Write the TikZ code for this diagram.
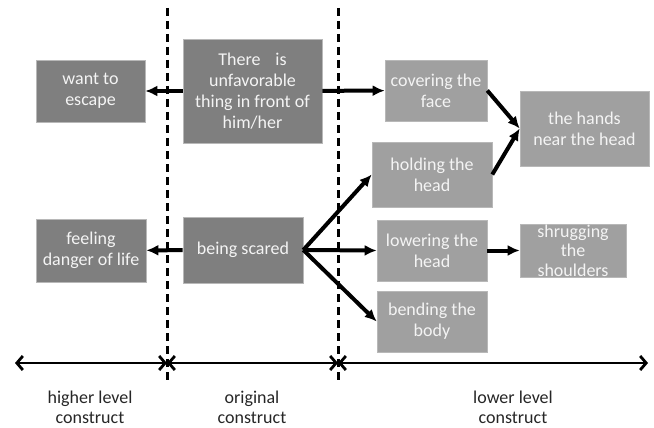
\documentclass[tikz,border=0pt]{standalone}
\usepackage{fontspec}
\setmainfont{Carlito}
\usepackage{tikz}
\usetikzlibrary{arrows.meta, positioning}

\definecolor{boxdark}{HTML}{7F7F7F}
\definecolor{boxlight}{HTML}{A0A0A0}
\definecolor{boxline}{HTML}{B8B8B8}
\definecolor{boxtext}{HTML}{F4F4F4}

\begin{document}
\begin{tikzpicture}[
        x=1pt, y=-1pt,
        box/.style={rectangle, draw=boxline, line width=0.6pt, fill=boxdark, text=boxtext, align=center, inner sep=0pt, font=\fontsize{18}{21}\selectfont},
        inner/.style={box, fill=boxlight},
        arrow/.style={-{Latex[length=12pt, width=11pt]}, line width=4pt},
        span/.style={{Straight Barb[length=6pt, width=14pt]}-{Straight Barb[length=6pt, width=14pt]}, line width=2.8pt},
        divider/.style={dashed, dash pattern=on 8pt off 5pt, line width=3pt},
        caption/.style={align=center, text=black!85, font=\fontsize{18}{20}\selectfont}
    ]
        \useasboundingbox (0,0) rectangle (654,428);

        % Construct levels
        \draw[divider] (167,8) -- (167,380);
        \draw[divider] (338,8) -- (338,380);

        \coordinate (l0) at (15,363);
        \coordinate (l1) at (167,363);
        \coordinate (l2) at (338,363);
        \coordinate (l3) at (648,363);
        \draw[span] (l0) -- (l1);
        \draw[span] (l1) -- (l2);
        \draw[span] (l2) -- (l3);

        \node[caption] (higher) at (90,407) {higher level\\construct};
        \node[caption] (original) at (252,407) {original\\construct};
        \node[caption] (lower) at (513,407) {lower level\\construct};

        % Higher level (left column)
        \node[box, minimum width=109pt, minimum height=62pt] (escape) at (90.5,91) {want to\\escape};
        \node[box, minimum width=110pt, minimum height=63pt] (danger) at (91,250.5) {feeling\\danger of life};

        % Original (middle column)
        \node[box, minimum width=139pt, minimum height=104pt] (thing) at (252.5,91) {There\hspace{0.6em} is\\unfavorable\\thing in front of\\him/her};
        \node[box, minimum width=120pt, minimum height=66pt] (scared) at (243,250) {being scared};

        % Lower level (right columns)
        \node[inner, minimum width=102pt, minimum height=61pt] (face) at (436,90.5) {covering the\\face};
        \node[inner, minimum width=120pt, minimum height=65pt] (holding) at (432,174.5) {holding the\\head};
        \node[inner, minimum width=110pt, minimum height=61pt] (lowering) at (432,250.5) {lowering the\\head};
        \node[inner, minimum width=110pt, minimum height=61pt] (bending) at (432,321.5) {bending the\\body};
        \node[inner, minimum width=129pt, minimum height=75pt] (hands) at (584.5,128.5) {the hands\\near the head};
        \node[inner, minimum width=106pt, minimum height=53pt, font=\fontsize{18}{19.5}\selectfont] (shrug) at (573,250.5) {shrugging\\the\\shoulders};

        % Connections
        \draw[arrow] (thing) -- (escape);
        \draw[arrow] (thing) -- (face);
        \draw[arrow] (scared) -- (danger);
        \draw[arrow] (scared.east) -- (holding.west);
        \draw[arrow] (scared.east) -- (lowering.west);
        \draw[arrow] (scared.east) -- (bending.west);
        \draw[arrow] (face.east) -- (hands.west);
        \draw[arrow] (holding.east) -- (hands.west);
        \draw[arrow] (lowering) -- (shrug);

    \end{tikzpicture}
\end{document}
